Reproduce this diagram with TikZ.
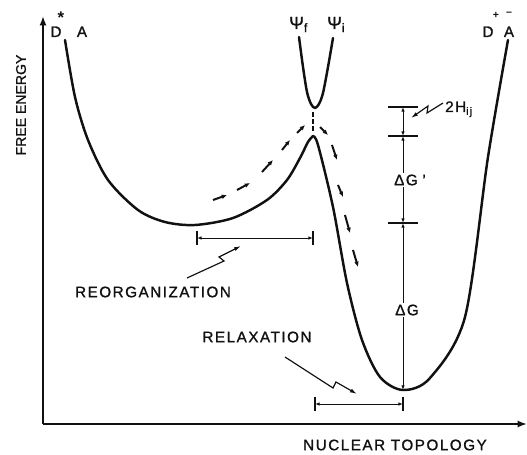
\documentclass[tikz,border=0pt]{standalone}
\usepackage{fontspec}
\setmainfont{Liberation Sans}
\newfontfamily\letfont[LetterSpace=10,FakeBold=1.2]{Liberation Sans}
\newfontfamily\axfont[FakeBold=1.2]{Liberation Sans}
\usepackage{tikz}
\usetikzlibrary{positioning,arrows.meta}
\definecolor{ink}{HTML}{111111}
\tikzset{
  curve/.style={ink,line width=2.1pt,line cap=round,line join=round},
  axis/.style={ink,line width=1.5pt,-{Latex[length=8pt,width=6pt]}},
  dim/.style={ink,line width=0.8pt,{Latex[length=4pt,width=3pt]}-{Latex[length=4pt,width=3pt]}},
  tickmark/.style={ink,line width=1pt},
  bolt/.style={ink,line width=1pt,-{Latex[length=6pt,width=3.5pt]}},
  flowdash/.style={ink,line width=1.7pt,-{Latex[length=4.5pt,width=4pt]}},
  lbl/.style={text=ink,font={\letfont\fontsize{13}{15}\selectfont},inner sep=0pt},
  biglbl/.style={text=ink,font={\axfont\fontsize{15}{17}\selectfont},inner sep=0pt}
}
\begin{document}
\begin{tikzpicture}[x=0.03cm,y=-0.03cm]
  \useasboundingbox (0,0) rectangle (527,455);
  \coordinate (o) at (43,424);
  \coordinate (ytop) at (43,16);
  \coordinate (xend) at (527,424);
  \draw[axis] (o) -- (ytop);
  \draw[axis] (o) -- (xend);
  \node[lbl,font={\axfont\fontsize{12}{14}\selectfont},rotate=90] (fe) at (21,105) {FREE ENERGY};
  \node[lbl] (nt) at (395,445) {NUCLEAR TOPOLOGY};
  \node[lbl,anchor=base] (dl) at (56,37) {D};
  \node[lbl,font=\bfseries\Large] (dstar) at (61,18) {*};
  \node[lbl,anchor=base] (al) at (82,37) {A};
  \node[lbl,anchor=base] (dr) at (488,37) {D};
  \node[lbl,font=\bfseries\small] (dplus) at (496,15) {+};
  \node[lbl,anchor=base] (ar) at (509,37) {A};
  \node[lbl,font=\bfseries\small] (aminus) at (509,14) {–};
  \node[biglbl,anchor=base west] (psif) at (289,29) {Ψ\textsubscript{f}};
  \node[biglbl,anchor=base west] (psii) at (327,29) {Ψ\textsubscript{i}};
  \draw[curve] plot[smooth] coordinates {(65,40) (75,97) (88,140) (108,180) (138,210) (165,222) (195,225)
     (233,218) (267,200) (287,180) (300,158) (308,142) (313,136)}
     plot[smooth] coordinates {(313,136) (318,145) (333,207) (347,283) (362,340) (380,377) (403,390)
     (430,378) (465,317) (488,157) (508,40)};
  \draw[curve] plot[smooth] coordinates {(299,37) (303,67) (307,92) (311,104) (315,108) (319,104)
     (323,93) (328,67) (333,38)};
  \foreach \xa/\ya/\xb/\yb in {213/200/227/195, 237/190/250/183, 262/172/273/160, 282/150/290/140, 297/133/305/125,
     320/127/328/135, 332/145/337/160, 338/185/343/197, 345/215/350/233, 353/250/358/267}
     \draw[flowdash] (\xa,\ya) -- (\xb,\yb);
  \draw[ink,line width=1.4pt,dash pattern=on 4pt off 2pt] (313,112) -- (313,132);
  \coordinate (h1) at (403,107);
  \coordinate (h2) at (403,136);
  \coordinate (g1) at (403,223);
  \coordinate (gmin) at (403,390);
  \foreach \y in {107,136,223} \draw[tickmark] (388,\y) -- (418,\y);
  \draw[dim] (h1) -- (h2);
  \draw[dim] (h2) -- (g1);
  \draw[dim] (g1) -- (gmin);
  \node[lbl,fill=white,inner sep=1pt] (dgp) at (410,180) {ΔG\hspace{4pt}’};
  \node[lbl,fill=white,inner sep=1pt] (dg) at (407,310) {ΔG};
  \node[lbl,anchor=base west] (hij) at (445,112) {2H\textsubscript{ij}};
  \coordinate (hijtip) at (411,118);
  \draw[bolt] (443,103) -- (427,113) -- (428,106) -- (hijtip);
  \coordinate (ra) at (197,238);
  \coordinate (rb) at (313,238);
  \coordinate (la) at (315,404);
  \coordinate (lb) at (403,404);
  \foreach \p in {ra,rb,la,lb} \draw[tickmark] (\p) ++(0,-7) -- ++(0,14);
  \draw[dim] (ra) -- (rb);
  \draw[dim] (la) -- (lb);
  \node[lbl] (reorg) at (153,292) {REORGANIZATION};
  \coordinate (reorgtip) at (241,246);
  \draw[bolt] (187,278) -- (224,261) -- (219,257) -- (reorgtip);
  \node[lbl] (relax) at (257,337) {RELAXATION};
  \coordinate (relaxtip) at (357,394);
  \draw[bolt] (285,357) -- (333,388) -- (336,382) -- (relaxtip);
\end{tikzpicture}
\end{document}
